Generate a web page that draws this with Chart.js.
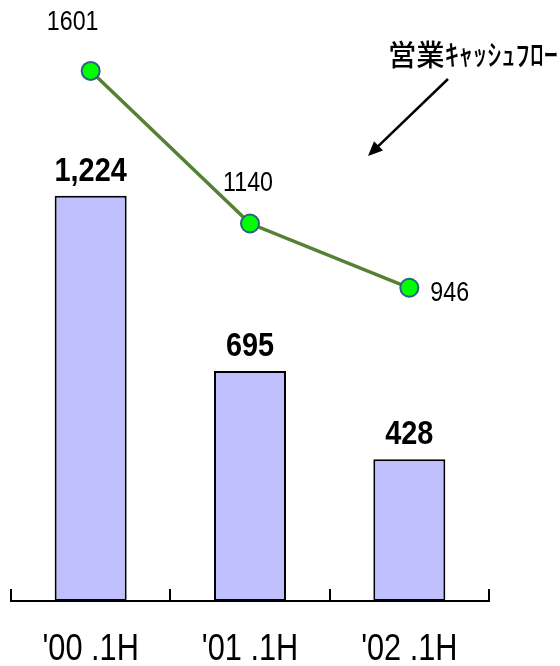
<!DOCTYPE html>
<html lang="ja">
<head>
<meta charset="utf-8">
<title>営業キャッシュフロー</title>
<script src="https://cdn.jsdelivr.net/npm/chart.js@4/dist/chart.umd.min.js"></script>
<style>
  html, body { margin: 0; padding: 0; background: #fff; }
  #chart { display: block; }
</style>
</head>
<body>
<canvas id="chart" width="560" height="666"></canvas>
<script>
(function () {
  'use strict';

  // Half-year periods and the two series plotted on them.
  var periods = ["'00 .1H", "'01 .1H", "'02 .1H"];
  var barValues = [1224, 695, 428];
  var cashFlow = [1601, 1140, 946];
  var seriesName = '営業ｷｬｯｼｭﾌﾛｰ';

  var sans = '"Liberation Sans", Arial, sans-serif';
  var squeeze = 0.83;

  // Where each cash flow figure sits relative to its point: dx, dy, align.
  var lineLabelPlacement = [[-18, -41, 'center'], [-2, -33, 'center'], [21, 13, 'left']];

  // Text squeezed horizontally, standing in for a narrow face.
  function narrowText(ctx, text, x, y, align, sx) {
    ctx.save();
    ctx.translate(x, y);
    ctx.scale(sx, 1);
    ctx.textAlign = align;
    ctx.fillText(text, 0, 0);
    ctx.restore();
  }

  // Category names under the axis, placed at the x scale's tick pixels.
  var periodLabels = {
    id: 'periodLabels',
    afterDraw: function (chart) {
      var ctx = chart.ctx;
      var xScale = chart.scales.x;
      ctx.save();
      ctx.fillStyle = '#000';
      ctx.font = '37px ' + sans;
      ctx.textBaseline = 'alphabetic';
      xScale.ticks.forEach(function (tick, i) {
        var px = xScale.getPixelForTick(i);
        narrowText(ctx, xScale.getLabelForValue(tick.value), px, 660, 'center', squeeze);
      });
      ctx.restore();
    }
  };

  // Value labels above the bars and next to the line points.
  var valueLabels = {
    id: 'valueLabels',
    afterDatasetsDraw: function (chart) {
      var ctx = chart.ctx;
      ctx.save();
      ctx.fillStyle = '#000';
      ctx.textBaseline = 'alphabetic';

      var bars = chart.getDatasetMeta(1).data;
      ctx.font = 'bold 34px ' + sans;
      bars.forEach(function (bar, i) {
        narrowText(ctx, barValues[i].toLocaleString('en-US'), bar.x, bar.y - 15, 'center', 0.85);
      });

      var points = chart.getDatasetMeta(0).data;
      ctx.font = '28px ' + sans;
      points.forEach(function (pt, i) {
        var p = lineLabelPlacement[i];
        narrowText(ctx, String(cashFlow[i]), pt.x + p[0], pt.y + p[1], p[2], squeeze);
      });
      ctx.restore();
    }
  };

  // Series caption with an arrow pointing down at the line.
  var seriesCallout = {
    id: 'seriesCallout',
    afterDraw: function (chart) {
      var ctx = chart.ctx;
      ctx.save();
      ctx.fillStyle = '#000';
      ctx.font = '500 29px "Noto Sans CJK JP", sans-serif';
      ctx.textBaseline = 'middle';
      ctx.textAlign = 'left';
      var w = ctx.measureText(seriesName).width;
      ctx.translate(388, 55);
      ctx.scale(170 / w, 1);
      ctx.fillText(seriesName, 0, 0);
      ctx.restore();

      var x0 = 448, y0 = 79, x1 = 368, y1 = 156;
      var ang = Math.atan2(y1 - y0, x1 - x0);
      var head = 16, spread = 0.42;
      ctx.save();
      ctx.strokeStyle = '#000';
      ctx.fillStyle = '#000';
      ctx.lineWidth = 2.5;
      ctx.beginPath();
      ctx.moveTo(x0, y0);
      ctx.lineTo(x1 - Math.cos(ang) * head * 0.8, y1 - Math.sin(ang) * head * 0.8);
      ctx.stroke();
      ctx.beginPath();
      ctx.moveTo(x1, y1);
      ctx.lineTo(x1 - head * Math.cos(ang - spread), y1 - head * Math.sin(ang - spread));
      ctx.lineTo(x1 - head * Math.cos(ang + spread), y1 - head * Math.sin(ang + spread));
      ctx.closePath();
      ctx.fill();
      ctx.restore();
    }
  };

  new Chart(document.getElementById('chart'), {
    type: 'bar',
    data: {
      labels: periods,
      datasets: [
        {
          type: 'line',
          label: seriesName,
          data: cashFlow,
          borderColor: '#548235',
          borderWidth: 3.5,
          tension: 0,
          pointRadius: 9,
          pointBackgroundColor: '#00ff00',
          pointBorderColor: '#2e5f86',
          pointBorderWidth: 2,
          order: 0
        },
        {
          type: 'bar',
          label: 'bars',
          data: barValues,
          backgroundColor: '#c0c0ff',
          borderColor: '#000',
          borderWidth: 2,
          borderSkipped: false,
          barPercentage: 0.452,
          categoryPercentage: 1,
          order: 1
        }
      ]
    },
    options: {
      responsive: false,
      animation: false,
      devicePixelRatio: 1,
      layout: { autoPadding: false, padding: { top: 5, left: 11, right: 71, bottom: 0 } },
      plugins: {
        legend: { display: false },
        tooltip: { enabled: false }
      },
      scales: {
        x: {
          offset: true,
          grid: {
            offset: true,
            drawOnChartArea: false,
            drawTicks: true,
            tickLength: -12,
            color: '#000',
            lineWidth: 2
          },
          border: { display: true, color: '#000', width: 2 },
          ticks: { display: false },
          afterFit: function (scale) { scale.height = 65; }
        },
        y: {
          display: false,
          min: 0,
          max: 1800
        }
      }
    },
    plugins: [valueLabels, periodLabels, seriesCallout]
  });
}());
</script>
</body>
</html>
